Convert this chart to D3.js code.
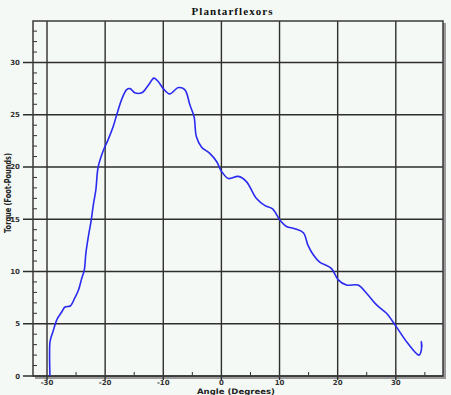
<!DOCTYPE html>
<html><head><meta charset="utf-8">
<script src="https://cdn.jsdelivr.net/npm/d3@7"></script>
<style>
html,body{margin:0;padding:0;background:#f4f9f5;}
svg{display:block;}
</style></head>
<body>
<svg id="c" width="451" height="395"></svg>
<script>
const title = "Plantarflexors";
const xLabel = "Angle (Degrees)";
const yLabel = "Torque (Foot-Pounds)";
const xTicks = [-30, -20, -10, 0, 10, 20, 30];
const yTicks = [0, 5, 10, 15, 20, 25, 30];
const angle = [-29.5,-29.5,-29.3,-29.0,-28.3,-27.5,-26.9,-26.0,-25.2,-24.6,-24.0,-23.6,-23.3,-22.9,-22.4,-22.0,-21.6,-21.2,-20.3,-19.5,-18.6,-17.9,-17.2,-16.3,-15.7,-14.9,-13.7,-12.6,-11.6,-10.9,-10.0,-8.9,-7.4,-6.3,-5.4,-4.7,-4.3,-3.4,-2.0,-0.8,0.0,1.2,2.9,4.3,6.0,7.5,8.8,10.1,11.2,12.6,14.1,14.9,15.8,16.9,18.9,20.1,21.5,23.5,25.0,26.7,28.4,30.1,32.1,34.0,34.4,34.4,34.5];
const torque = [0.0,3.2,3.7,4.2,5.4,6.1,6.6,6.7,7.5,8.2,9.4,10.1,11.8,13.3,14.9,16.5,17.8,20.0,21.6,22.6,23.9,25.2,26.4,27.4,27.5,27.1,27.1,27.8,28.5,28.2,27.5,27.0,27.6,27.4,25.9,24.8,22.9,21.9,21.3,20.5,19.6,18.9,19.1,18.6,17.0,16.3,16.0,14.9,14.3,14.1,13.7,12.5,11.6,10.9,10.3,9.2,8.7,8.7,7.9,6.8,6.0,4.7,3.1,2.0,2.5,3.3,2.8];

const svg = d3.select("#c");
const L = 33, R = 443, T = 21, B = 376;
const x = d3.scaleLinear().domain([-32.41, 38.12]).range([L, R]);
const y = d3.scaleLinear().domain([0, 33.97]).range([B, T]);

// shadow
svg.append("rect").attr("x", L+2).attr("y", T+2).attr("width", R-L+1).attr("height", B-T+1).attr("fill", "#9a9a9a");
svg.append("rect").attr("x", L).attr("y", T).attr("width", R-L).attr("height", B-T).attr("fill", "#f4f9f5");

// grid
const g = svg.append("g");
g.selectAll(".vx").data(xTicks).join("line")
  .attr("x1", d => x(d)).attr("x2", d => x(d)).attr("y1", T).attr("y2", B+4)
  .attr("stroke", "#2e2e2e").attr("stroke-width", 1.4);
g.selectAll(".hy").data(yTicks).join("line")
  .attr("y1", d => y(d)).attr("y2", d => y(d)).attr("x1", L-10).attr("x2", R)
  .attr("stroke", "#2e2e2e").attr("stroke-width", 1.4);

// minor ticks
const yMinor = d3.range(1, 34).filter(v => v % 5 !== 0);
g.selectAll(".my").data(yMinor).join("line")
  .attr("y1", d => y(d)).attr("y2", d => y(d)).attr("x1", L).attr("x2", L+4)
  .attr("stroke", "#2e2e2e").attr("stroke-width", 1);
const xMinor = [-25, -15, -5, 5, 15, 25, 35];
g.selectAll(".mx").data(xMinor).join("line")
  .attr("x1", d => x(d)).attr("x2", d => x(d)).attr("y1", B).attr("y2", B-4)
  .attr("stroke", "#2e2e2e").attr("stroke-width", 1);

// frame
svg.append("rect").attr("x", L).attr("y", T).attr("width", R-L).attr("height", B-T)
  .attr("fill", "none").attr("stroke", "#3a3a3a").attr("stroke-width", 1.5);

// curve
const pts = angle.map((a, i) => [a, torque[i]]);
svg.append("path").datum(pts)
  .attr("d", d3.line().x(d => x(d[0])).y(d => y(d[1])).curve(d3.curveCatmullRom.alpha(0.5)))
  .attr("fill", "none").attr("stroke", "#2a2af0").attr("stroke-width", 1.6)
  .attr("stroke-linejoin", "round");

// tick labels
const tf = "'DejaVu Sans', sans-serif";
svg.selectAll(".xl").data(xTicks).join("text")
  .attr("x", d => x(d)).attr("y", 385).attr("text-anchor", "middle")
  .attr("font-family", tf).attr("font-size", 7).attr("font-weight", "bold").attr("fill", "#333")
  .text(d => d);
svg.selectAll(".yl").data(yTicks).join("text")
  .attr("x", 20).attr("y", d => y(d) + 2.5).attr("text-anchor", "end")
  .attr("font-family", tf).attr("font-size", 7).attr("font-weight", "bold").attr("fill", "#333")
  .text(d => d);

// title
svg.append("text").attr("x", 232).attr("y", 15).attr("text-anchor", "middle")
  .attr("font-family", "'Liberation Serif', serif").attr("font-size", 11).attr("font-weight", "bold")
  .attr("textLength", 81).attr("lengthAdjust", "spacing").attr("fill", "#111").text(title);

// x label
svg.append("text").attr("x", 236).attr("y", 394).attr("text-anchor", "middle")
  .attr("font-family", tf).attr("font-size", 7.5).attr("font-weight", "bold")
  .attr("textLength", 78).attr("lengthAdjust", "spacingAndGlyphs").attr("fill", "#222").text(xLabel);

// y label
svg.append("text").attr("transform", "translate(11,193) rotate(-90)").attr("text-anchor", "middle")
  .attr("font-family", tf).attr("font-size", 8).attr("font-weight", "bold")
  .attr("textLength", 80).attr("lengthAdjust", "spacingAndGlyphs").attr("fill", "#222").text(yLabel);
</script>
</body></html>
